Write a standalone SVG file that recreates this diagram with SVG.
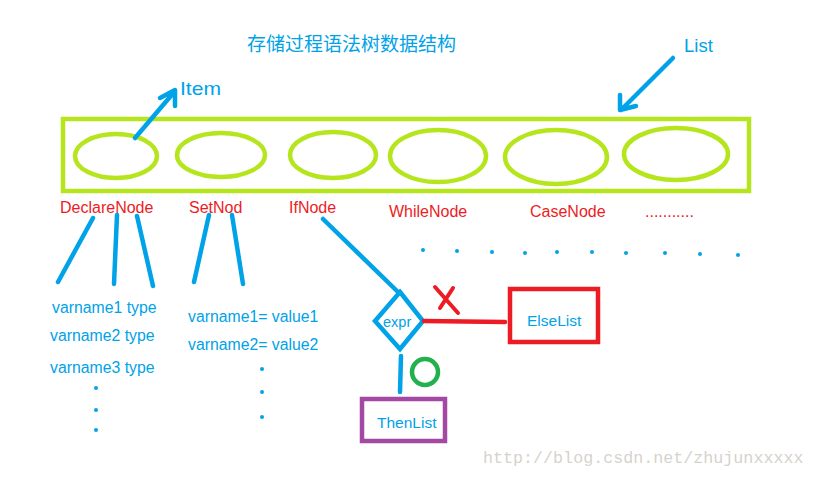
<svg xmlns="http://www.w3.org/2000/svg" width="815" height="477" viewBox="0 0 815 477">
<style>
.t{font-family:"Liberation Sans","Noto Sans",Arial,sans-serif;}
.blue{fill:#00a2e8;}
.red{fill:#ed1c24;}
.ln{stroke:#00a2e8;stroke-width:4.5;stroke-linecap:round;stroke-linejoin:round;fill:none;}
.lime{stroke:#b5e61d;stroke-width:4.5;fill:none;}
.dot{fill:#00a2e8;}
</style>
<rect width="815" height="477" fill="#ffffff"/>
<text class="blue" x="247" y="51" font-family="'Noto Sans CJK SC',sans-serif" font-size="19">存储过程语法树数据结构</text>
<g id="list">
<rect class="lime" x="63" y="119" width="686" height="72"/>
<text class="t blue" x="684" y="52" font-size="18.5">List</text>
</g>
<g id="items">
<ellipse class="lime" cx="116" cy="156" rx="41" ry="22"/>
<ellipse class="lime" cx="221" cy="155" rx="44" ry="22"/>
<ellipse class="lime" cx="333" cy="155" rx="43" ry="23"/>
<ellipse class="lime" cx="438" cy="156" rx="48" ry="26"/>
<ellipse class="lime" cx="556" cy="157" rx="51" ry="27"/>
<ellipse class="lime" cx="676" cy="154" rx="52" ry="26"/>
<text class="t blue" x="180" y="95" font-size="19" textLength="41" lengthAdjust="spacingAndGlyphs">Item</text>
</g>
<g id="labels" class="t red" font-size="16">
<text x="60" y="213">DeclareNode</text>
<text x="189" y="213">SetNod</text>
<text x="289" y="213">IfNode</text>
<text x="389" y="217">WhileNode</text>
<text x="530" y="217">CaseNode</text>
<text x="645" y="217">...........</text>
</g>
<g id="declare-vars" class="t blue" font-size="15.8">
<text x="52" y="313">varname1 type</text>
<text x="50" y="341">varname2 type</text>
<text x="50" y="373">varname3 type</text>
<circle class="dot" cx="96" cy="388" r="2"/>
<circle class="dot" cx="96" cy="410" r="2"/>
<circle class="dot" cx="96" cy="430" r="2"/>
</g>
<g id="set-vars" class="t blue" font-size="15.8">
<text x="188" y="322">varname1= value1</text>
<text x="188" y="350">varname2= value2</text>
<circle class="dot" cx="262" cy="369" r="2"/>
<circle class="dot" cx="262" cy="392" r="2"/>
<circle class="dot" cx="262" cy="417" r="2"/>
</g>
<g id="more-dots">
<circle class="dot" cx="423" cy="250" r="2"/>
<circle class="dot" cx="457" cy="251" r="2"/>
<circle class="dot" cx="492" cy="252" r="2"/>
<circle class="dot" cx="525" cy="253" r="2"/>
<circle class="dot" cx="557" cy="252" r="2"/>
<circle class="dot" cx="592" cy="252" r="2"/>
<circle class="dot" cx="626" cy="253" r="2"/>
<circle class="dot" cx="665" cy="253" r="2"/>
<circle class="dot" cx="700" cy="254" r="2"/>
<circle class="dot" cx="738" cy="255" r="2"/>
</g>
<g id="expr">
<polygon points="400,292 423,321 400,349 375,321" fill="none" stroke="#00a2e8" stroke-width="4.5" stroke-linejoin="miter"/>
<text class="t blue" x="383" y="327" font-size="14.5">expr</text>
</g>
<g id="elselist">
<rect x="510" y="289" width="88" height="53" fill="none" stroke="#ed1c24" stroke-width="4.5"/>
<text class="t blue" x="527" y="326" font-size="15.5">ElseList</text>
</g>
<g id="thenlist">
<rect x="362" y="399" width="83" height="42" fill="none" stroke="#a349a4" stroke-width="4.5"/>
<text class="t blue" x="377" y="428" font-size="15.5">ThenList</text>
</g>
<g id="connectors">
<path class="ln" d="M135,138 L175,91 M160,98 L175,90 L175,106"/>
<path class="ln" d="M673,58 L621,110 M620,95 L620,110 L636,106"/>
<line class="ln" x1="93" y1="218" x2="58" y2="282"/>
<line class="ln" x1="117" y1="215" x2="114" y2="284"/>
<line class="ln" x1="137" y1="216" x2="153" y2="286"/>
<line class="ln" x1="209" y1="215" x2="194" y2="282"/>
<line class="ln" x1="232" y1="215" x2="243" y2="284"/>
<line class="ln" x1="323" y1="219" x2="397" y2="291"/>
<line class="ln" x1="401" y1="356" x2="400" y2="392"/>
<line x1="424" y1="321" x2="505" y2="322" stroke="#ed1c24" stroke-width="4.5" stroke-linecap="round"/>
<path d="M435,287 L458,313 M453,288 L440,308" stroke="#ed1c24" stroke-width="4" stroke-linecap="round" fill="none"/>
<circle cx="425" cy="372" r="13" fill="none" stroke="#22b14c" stroke-width="4.5"/>
</g>
<text x="483" y="463" font-family="'Liberation Mono',monospace" font-size="16.7" fill="#d6d3cc">http://blog.csdn.net/zhujunxxxxx</text>
</svg>
